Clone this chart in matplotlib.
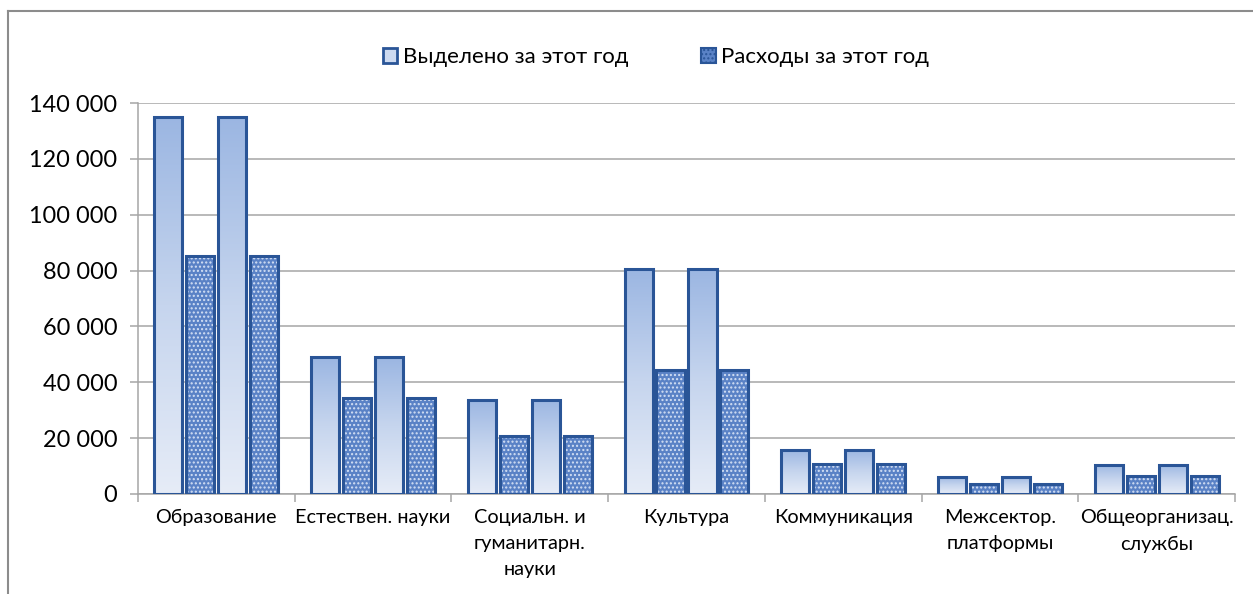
import numpy as np
import matplotlib
matplotlib.use("Agg")
import matplotlib.pyplot as plt
from matplotlib.colors import LinearSegmentedColormap
from matplotlib.patches import Rectangle, Patch
from matplotlib.ticker import FuncFormatter

plt.rcParams['font.family'] = ['Lato', 'DejaVu Sans']

categories = ["Образование", "Естествен. науки", "Социальн. и\nгуманитарн.\nнауки",
              "Культура", "Коммуникация", "Межсектор.\nплатформы", "Общеорганизац.\nслужбы"]
allocated = [135000, 49000, 33700, 80600, 15800, 6100, 10400]
spent = [85200, 34400, 20800, 44400, 10700, 3600, 6400]
legend_labels = ["Выделено за этот год", "Расходы за этот год"]

EDGE = "#2a5597"
grad_cmap = LinearSegmentedColormap.from_list("g", ["#e6ecf7", "#c6d5ee", "#9bb6e2"])

fig = plt.figure(figsize=(12.53, 5.94), dpi=100)
ax = fig.add_axes([138 / 1253, 1 - 494 / 594, (1235 - 138) / 1253, (494 - 103) / 594])

x = np.arange(len(categories))
w = 0.179
offsets = [-0.306, -0.102, 0.102, 0.306]
series = [allocated, spent, allocated, spent]


def gradient_bar(xc, h):
    r = Rectangle((xc - w / 2, 0), w, h, facecolor="none", edgecolor="none")
    ax.add_patch(r)
    im = ax.imshow(np.linspace(0, 1, 256).reshape(-1, 1), cmap=grad_cmap, aspect="auto",
                   origin="lower", extent=(xc - w / 2, xc + w / 2, 0, h), zorder=2)
    im.set_clip_path(r)
    ax.add_patch(Rectangle((xc - w / 2, 0), w, h, facecolor="none", edgecolor=EDGE,
                           linewidth=2.2, zorder=3))


def dotted_bar(xc, h):
    ax.add_patch(Rectangle((xc - w / 2, 0), w, h, facecolor="#5a82c6", edgecolor="none", zorder=2))
    ax.add_patch(Rectangle((xc - w / 2, 0), w, h, facecolor="none", edgecolor="#d4e0f4",
                           hatch="....", linewidth=0, zorder=2.5))
    ax.add_patch(Rectangle((xc - w / 2, 0), w, h, facecolor="none", edgecolor=EDGE,
                           linewidth=2.2, zorder=3))


for k, (off, vals) in enumerate(zip(offsets, series)):
    for xi, v in zip(x, vals):
        if k % 2 == 0:
            gradient_bar(xi + off, v)
        else:
            dotted_bar(xi + off, v)

ax.set_xlim(-0.5, len(categories) - 0.5)
ax.set_ylim(0, 140000)
ax.set_yticks(np.arange(0, 140001, 20000))
ax.yaxis.set_major_formatter(FuncFormatter(lambda v, p: f"{int(v):,}".replace(",", " ")))
ax.yaxis.grid(True, color="#a6a6a6", linewidth=1.1)
ax.set_axisbelow(True)

ax.set_xticks(x)
ax.set_xticklabels(categories, fontsize=14.3, linespacing=1.65)
ax.set_xticks(np.arange(-0.5, len(categories)), minor=True)
ax.tick_params(axis="x", which="major", length=0, pad=11)
ax.tick_params(axis="x", which="minor", length=6, color="#a6a6a6", width=1.1)
ax.tick_params(axis="y", length=6, color="#a6a6a6", width=1.1, labelsize=16.9, pad=9)

for s in ["top", "right"]:
    ax.spines[s].set_visible(False)
for s in ["left", "bottom"]:
    ax.spines[s].set_color("#a6a6a6")
    ax.spines[s].set_linewidth(1.1)

handles = [Patch(facecolor="#cddaf0", edgecolor=EDGE, linewidth=2),
           Patch(facecolor="#5a82c6", edgecolor=EDGE, linewidth=1.5, hatch="....")]
fig.legend(handles, legend_labels, loc="center", bbox_to_anchor=(656 / 1253, 1 - 57 / 594),
           ncol=2, frameon=False, fontsize=16, handlelength=0.65, handleheight=0.65,
           handletextpad=0.25, columnspacing=3.3)

# chart frame
fig.add_artist(plt.Line2D([8 / 1253, 1.0], [1 - 11 / 594, 1 - 11 / 594],
                          transform=fig.transFigure, color="#8c8c8c", linewidth=1.5))
fig.add_artist(plt.Line2D([8 / 1253, 8 / 1253], [0, 1 - 11 / 594],
                          transform=fig.transFigure, color="#8c8c8c", linewidth=1.5))

fig.savefig("out.png", dpi=100)
